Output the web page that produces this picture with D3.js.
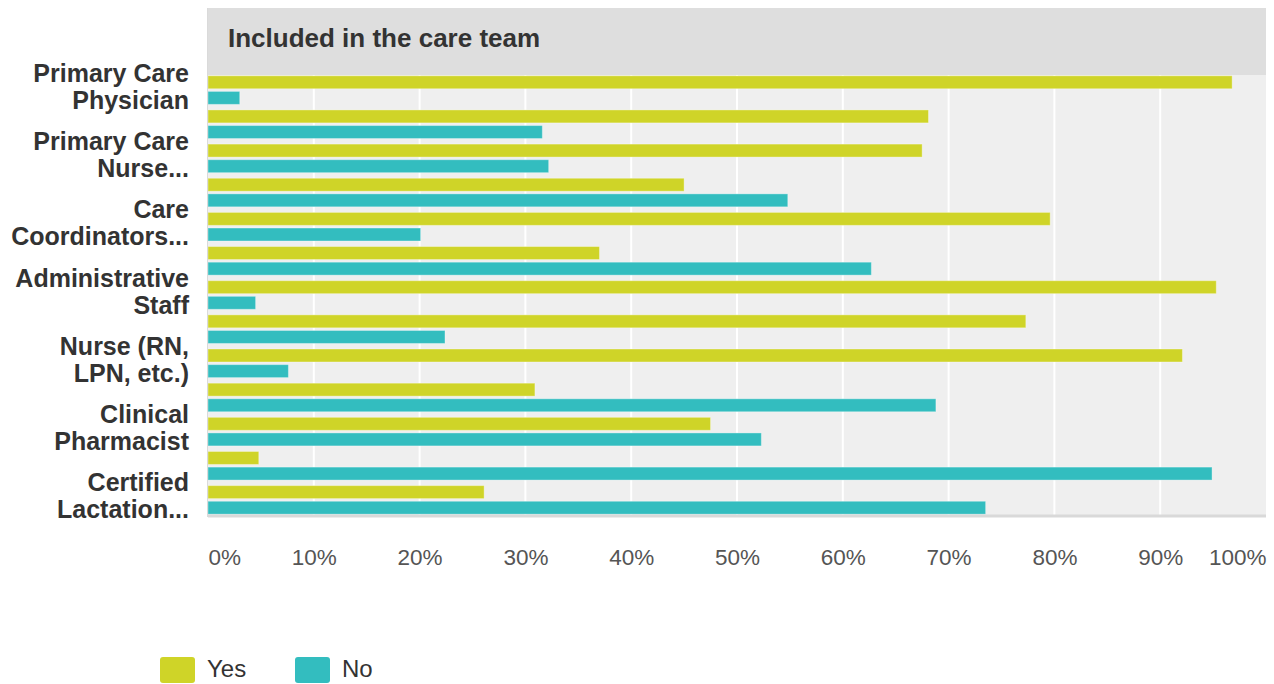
<!DOCTYPE html>
<html><head><meta charset="utf-8">
<script src="https://cdn.jsdelivr.net/npm/d3@7"></script>
<style>body{margin:0;background:#fff}svg{display:block;font-family:"Liberation Sans",Arial,sans-serif}</style>
</head><body><svg id="c" width="1274" height="684"></svg>
<script>
const categories = ["Primary Care Physician","Physician Assistant","Primary Care Nurse...","Medical Assistant","Care Coordinators...","Social Worker","Administrative Staff","Behavioral Health...","Nurse (RN, LPN, etc.)","Community Health...","Clinical Pharmacist","Dietitian","Certified Lactation..."];
const seriesNames = ["Yes","No"];
const yesValues = [96.8,68.1,67.5,45.0,79.6,37.0,95.3,77.3,92.1,30.9,47.5,4.8,26.1];
const noValues  = [3.0,31.6,32.2,54.8,20.1,62.7,4.5,22.4,7.6,68.8,52.3,94.9,73.5];
const xTicks = [0,10,20,30,40,50,60,70,80,90,100];
const seriesColors = ["#cfd428","#33bdbf"];
const chartTitle = "Included in the care team";

const svg = d3.select("#c");
const L = 208, R = 1266, T = 75, B = 515, HT = 8;

const x = d3.scaleLinear().domain([0,100]).range([L,R]);
const y = d3.scaleBand().domain(categories).range([73,517]).paddingInner(0.163).paddingOuter(0.0815);
const ys = d3.scaleBand().domain(seriesNames).range([0,y.bandwidth()]).paddingInner(0.17);
const color = d3.scaleOrdinal().domain(seriesNames).range(seriesColors);

// backgrounds
svg.append("rect").attr("x",L).attr("y",T).attr("width",R-L).attr("height",B-T).attr("fill","#efefef");
svg.append("rect").attr("x",L).attr("y",HT).attr("width",R-L).attr("height",T-HT).attr("fill","#dedede");

// gridlines
svg.append("g").selectAll("line").data(xTicks.filter(d=>d>0&&d<100)).join("line")
  .attr("x1",d=>x(d)).attr("x2",d=>x(d)).attr("y1",T).attr("y2",B)
  .attr("stroke","#ffffff").attr("stroke-width",2);

// bars
const rows = categories.map((c,i)=>({cat:c, vals:[{s:"Yes",v:yesValues[i]},{s:"No",v:noValues[i]}]}));
const g = svg.append("g").selectAll("g").data(rows).join("g")
  .attr("transform",d=>`translate(0,${y(d.cat)})`);
g.selectAll("rect").data(d=>d.vals).join("rect")
  .attr("x",x(0)).attr("y",d=>ys(d.s))
  .attr("width",d=>x(d.v)-x(0)).attr("height",ys.bandwidth())
  .attr("fill",d=>color(d.s))
  .attr("stroke","rgba(255,255,255,0.35)").attr("stroke-width",1);

// axis lines
svg.append("line").attr("x1",L).attr("x2",R).attr("y1",B+1).attr("y2",B+1).attr("stroke","#d9d9d9").attr("stroke-width",3);
svg.append("line").attr("x1",L-0.5).attr("x2",L-0.5).attr("y1",HT).attr("y2",B+2).attr("stroke","#dadada").attr("stroke-width",1);

// title
svg.append("text").attr("x",228).attr("y",47).attr("font-size",26).attr("font-weight","bold")
  .attr("fill","#333").text(chartTitle);

// x axis
const xa = svg.append("g").attr("transform",`translate(0,${B})`)
  .call(d3.axisBottom(x).tickValues(xTicks).tickFormat(d=>d+"%").tickSize(0));
xa.select(".domain").remove();
xa.selectAll("text").attr("y",50).attr("dy",0).attr("font-size",22.5).attr("fill","#555")
  .attr("font-family","Liberation Sans, Arial, sans-serif")
  .attr("text-anchor",(d,i)=> i===0?"start":(i===xTicks.length-1?"end":"middle"));

// y axis
const ya = svg.append("g").attr("transform","translate(189,0)")
  .call(d3.axisLeft(y).tickValues(categories.filter((d,i)=>i%2===0)).tickSize(0).tickPadding(0));
ya.select(".domain").remove();
ya.selectAll("text").each(function(d){
  const t = d3.select(this);
  t.text(null).attr("font-size",25).attr("font-weight","bold").attr("fill","#333")
   .attr("font-family","Liberation Sans, Arial, sans-serif").attr("dy",null).attr("x",0);
  const words = d.split(" ");
  const lines = []; let cur = [];
  const probe = t.append("tspan");
  words.forEach(w=>{
    const test = cur.concat([w]).join(" ");
    probe.text(test);
    if (probe.node().getComputedTextLength() > 182 && cur.length){ lines.push(cur.join(" ")); cur=[w]; }
    else cur.push(w);
  });
  lines.push(cur.join(" "));
  probe.remove();
  const lh = 27;
  const start = -((lines.length-1)*lh)/2 + 5;
  lines.forEach((ln,k)=>{
    t.append("tspan").attr("x",0).attr("y",start+k*lh).text(ln);
  });
});

// legend
const lg = svg.append("g").selectAll("g").data(seriesNames).join("g")
  .attr("transform",(d,i)=>`translate(${160+i*135},657)`);
lg.append("rect").attr("width",35).attr("height",26).attr("rx",3).attr("fill",d=>color(d));
lg.append("text").attr("x",47).attr("y",20).attr("font-size",24).attr("fill","#333").text(d=>d);
</script>
</body></html>
